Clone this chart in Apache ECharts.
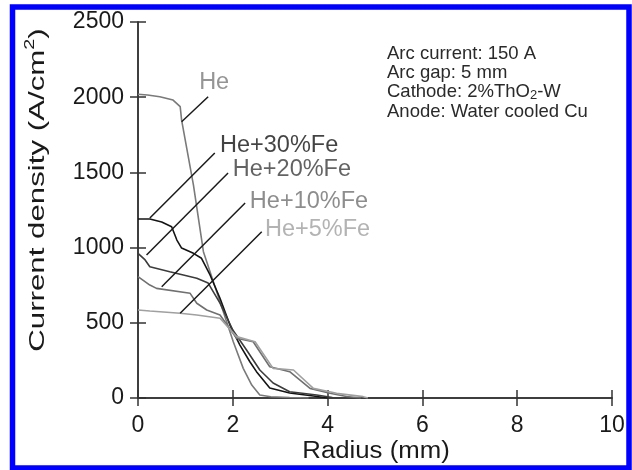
<!DOCTYPE html>
<html>
<head>
<meta charset="utf-8">
<script src="https://cdn.jsdelivr.net/npm/echarts@6/dist/echarts.min.js"></script>
<style>
html,body{margin:0;padding:0;background:#fff;}
#chart{width:632px;height:470px;}
</style>
</head>
<body>
<div id="chart"></div>
<script>
// ---- data ----
const xTicks = [0, 2, 4, 6, 8, 10];
const yTicks = [0, 500, 1000, 1500, 2000, 2500];

const heX   = [0, 0.2, 0.46, 0.74, 0.89, 0.92, 1.17, 1.38, 1.59, 1.8, 2.01, 2.22, 2.4, 2.57, 2.8, 3.2, 3.6];
const heY   = [2020, 2015, 2003, 1981, 1937, 1848, 1416, 973, 773, 574, 374, 197, 86, 20, 8, 3, 0];

const fe30X = [0, 0.25, 0.5, 0.71, 0.82, 0.92, 1.17, 1.34, 1.52, 1.73, 1.94, 2.15, 2.36, 2.5, 2.78, 3.2, 3.7, 4.0];
const fe30Y = [1190, 1190, 1170, 1139, 1050, 997, 962, 929, 818, 663, 485, 352, 241, 175, 66, 33, 13, 0];

const fe20X = [0, 0.15, 0.25, 0.67, 1.0, 1.24, 1.48, 1.73, 2.0, 2.29, 2.57, 2.85, 3.2, 3.77, 4.1];
const fe20Y = [962, 918, 873, 840, 815, 796, 764, 631, 452, 319, 186, 100, 42, 20, 3];

const fe10X = [0, 0.25, 0.39, 1.1, 1.24, 1.45, 1.73, 2.08, 2.43, 2.78, 3.2, 3.63, 4.05, 4.4, 4.7];
const fe10Y = [807, 751, 729, 696, 630, 585, 552, 397, 374, 208, 175, 64, 31, 10, 0];

const fe5X  = [0, 0.25, 0.89, 1.24, 1.73, 2.08, 2.47, 2.85, 3.28, 3.7, 4.19, 4.75, 4.85];
const fe5Y  = [585, 578, 563, 552, 530, 408, 374, 197, 186, 64, 31, 9, 0];

const seriesNames = ['He', 'He+30%Fe', 'He+20%Fe', 'He+10%Fe', 'He+5%Fe'];
const noteLines = ['Arc current: 150 A', 'Arc gap: 5 mm', 'Cathode: 2%ThO{sub|2}-W', 'Anode: Water cooled Cu'];
const xName = 'Radius (mm)';
const yName = 'Current density (A/cm{sup|2})';

// ---- presentation ----
const colors = ['#7a7a7a', '#141414', '#3c3c3c', '#707070', '#a0a0a0'];
// label anchor (text) and leader endpoints, in data coords
const labelPos = [
  {text:[1.29, 2098], from:[1.48, 2003], to:[0.92, 1837]},
  {text:[1.73, 1682], from:[1.62, 1629], to:[0.25, 1197]},
  {text:[2.0, 1516],  from:[1.90, 1496], to:[0.18, 951]},
  {text:[2.36, 1306], from:[2.26, 1297], to:[0.50, 740]},
  {text:[2.68, 1117], from:[2.61, 1106], to:[0.89, 563]}
];

const zip = (xs, ys) => xs.map((x, i) => [x, ys[i]]);
const allData = [zip(heX, heY), zip(fe30X, fe30Y), zip(fe20X, fe20Y), zip(fe10X, fe10Y), zip(fe5X, fe5Y)];

const FONT = '"Liberation Sans", Arial, sans-serif';
const TXT = '#1a1a1a';
const chart = echarts.init(document.getElementById('chart'));

const series = allData.map((d, i) => ({
  name: seriesNames[i], type: 'line', data: d, showSymbol: false, symbol: 'none',
  lineStyle: {color: colors[i], width: 1.6}, animation: false, z: 3
}));
// leader lines
series.push({
  type: 'lines', coordinateSystem: 'cartesian2d', animation: false, z: 4,
  lineStyle: {color: '#1a1a1a', width: 1.5, opacity: 1},
  data: labelPos.map(p => ({coords: [p.from, p.to]}))
});
// labels
series.push({
  type: 'scatter', symbolSize: 0, animation: false, z: 5, silent: true,
  data: labelPos.map((p, i) => ({
    value: p.text,
    label: {show: true, position: 'inside', align: 'left', verticalAlign: 'middle',
      formatter: seriesNames[i], color: colors[i], fontSize: 23.5, fontFamily: FONT}
  }))
});

const axisLine = {show: true, lineStyle: {color: '#333', width: 1.5}};
const tick = {show: true, inside: true, length: 8, lineStyle: {color: '#333', width: 1.5}};
chart.setOption({
  animation: false,
  grid: {left: 138, right: 20, top: 22, bottom: 72},
  xAxis: [{
    type: 'value', min: 0, max: 10, interval: 2, position: 'bottom',
    axisLine, splitLine: {show: false}, axisTick: tick,
    axisLabel: {fontSize: 23, color: TXT, fontFamily: FONT, margin: 16,
      formatter: v => xTicks.includes(v) ? String(v) : ''}
  }, {
    type: 'value', min: 0, max: 10, interval: 2, position: 'top',
    axisLine, splitLine: {show: false}, axisLabel: {show: false}, axisTick: tick
  }],
  yAxis: [{
    type: 'value', min: 0, max: 2500, interval: 500, position: 'left',
    axisLine, splitLine: {show: false}, axisTick: tick,
    axisLabel: {fontSize: 23, color: TXT, fontFamily: FONT, margin: 14,
      formatter: v => yTicks.includes(v) ? String(v) : ''}
  }, {
    type: 'value', min: 0, max: 2500, interval: 500, position: 'right',
    axisLine, splitLine: {show: false}, axisLabel: {show: false}, axisTick: tick
  }],
  series,
  graphic: [
    {type: 'rect', shape: {x: 12.5, y: 7, width: 616.5, height: 461}, z: 100,
      style: {fill: 'none', stroke: '#0000ff', lineWidth: 5.5}},
    {type: 'text', left: 387, top: 44, z: 10,
      style: {text: noteLines.join('\n'), fontSize: 18.5, lineHeight: 19.3, fill: '#2a2a2a', fontFamily: FONT,
        rich: {sub: {fontSize: 13, verticalAlign: 'bottom', padding: [9,0,0,0], fill: '#2a2a2a', fontFamily: FONT}}}},
    {type: 'text', x: 376, y: 452, z: 10, scaleX: 1.12,
      style: {text: xName, fontSize: 23, fill: TXT, fontFamily: FONT, align: 'center', verticalAlign: 'middle'}},
    {type: 'text', x: 37.5, y: 190, z: 10, rotation: Math.PI / 2, scaleX: 1.42,
      style: {text: yName, fontSize: 22, fill: TXT, fontFamily: FONT, align: 'center', verticalAlign: 'middle',
        rich: {sup: {fontSize: 14, verticalAlign: 'top', padding: [0,0,14,0], fill: TXT, fontFamily: FONT}}}}
  ]
});
</script>
</body>
</html>
